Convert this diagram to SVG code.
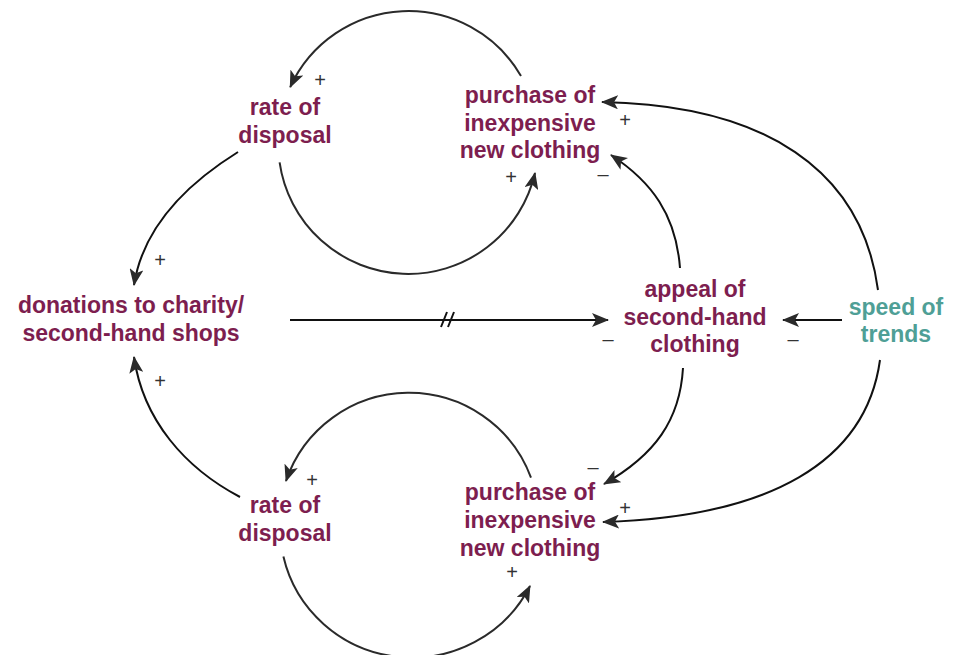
<svg xmlns="http://www.w3.org/2000/svg" width="955" height="655" viewBox="0 0 955 655">
<style>
.n{font-family:"Liberation Sans",Arial,Helvetica,sans-serif;font-weight:bold;font-size:23px;fill:#7d1e4f;text-anchor:middle}
.t{fill:#4f9f96}
.s{font-family:"Liberation Sans",Arial,sans-serif;font-size:20px;fill:#333;text-anchor:middle}
.c{fill:none;stroke:#2a2a2a;stroke-width:2;marker-end:url(#ah)}
.k{stroke:#111}
</style>
<defs>
<marker id="ah" markerUnits="userSpaceOnUse" markerWidth="18" markerHeight="14" viewBox="0 0 18 14" refX="16" refY="7" orient="auto">
<path d="M0,0 L17,7 L0,14 L4,7 Z" fill="#2a2a2a"/>
</marker>
</defs>
<rect width="955" height="655" fill="#fff"/>
<g id="connectors">
<path class="c" d="M521,76 A130,130 0 0 0 290.2,87.1"/>
<path class="c" d="M279.6,162.3 A130,130 0 0 0 535,173"/>
<path class="c" d="M531,477.7 A130,130 0 0 0 286,481"/>
<path class="c" d="M283.4,556.6 A132,130 0 0 0 530,586"/>
<path class="c k" d="M238,152 C185,185 143,228 134,285"/>
<path class="c k" d="M240,497 C185,468 143,420 134,357"/>
<path class="c k" d="M290,320 L608,320"/>
<path d="M441,327 L447,312 M448,327 L454,312" stroke="#111" stroke-width="2" fill="none"/>
<path class="c k" d="M842,320 L783,320"/>
<path class="c k" d="M680,268 C676,215 652,182 611,155"/>
<path class="c k" d="M683,368 C680,420 655,455 604,484"/>
<path class="c k" d="M878,290 C862,170 765,105 602,102"/>
<path class="c k" d="M880,360 C866,462 770,517 603,522"/>
</g>
<g id="rate_top"><text class="n" x="285" y="115">rate of</text><text class="n" x="285" y="143">disposal</text></g>
<g id="purchase_top"><text class="n" x="530" y="103">purchase of</text><text class="n" x="530" y="131">inexpensive</text><text class="n" x="530" y="158">new clothing</text></g>
<g id="donations"><text class="n" x="131" y="313">donations to charity/</text><text class="n" x="131" y="341">second-hand shops</text></g>
<g id="appeal"><text class="n" x="695" y="297">appeal of</text><text class="n" x="695" y="325">second-hand</text><text class="n" x="695" y="352">clothing</text></g>
<g id="speed"><text class="n t" x="896" y="315">speed of</text><text class="n t" x="896" y="342">trends</text></g>
<g id="rate_bottom"><text class="n" x="285" y="513">rate of</text><text class="n" x="285" y="541">disposal</text></g>
<g id="purchase_bottom"><text class="n" x="530" y="500">purchase of</text><text class="n" x="530" y="528">inexpensive</text><text class="n" x="530" y="556">new clothing</text></g>
<g id="signs">
<text class="s" x="320" y="87">+</text>
<text class="s" x="511" y="184">+</text>
<text class="s" x="625" y="127">+</text>
<text class="s" x="603" y="181">–</text>
<text class="s" x="160" y="267">+</text>
<text class="s" x="160" y="388">+</text>
<text class="s" x="608" y="346">–</text>
<text class="s" x="793" y="346">–</text>
<text class="s" x="312" y="487">+</text>
<text class="s" x="593" y="474">–</text>
<text class="s" x="625" y="515">+</text>
<text class="s" x="512" y="579">+</text>
</g>
</svg>
